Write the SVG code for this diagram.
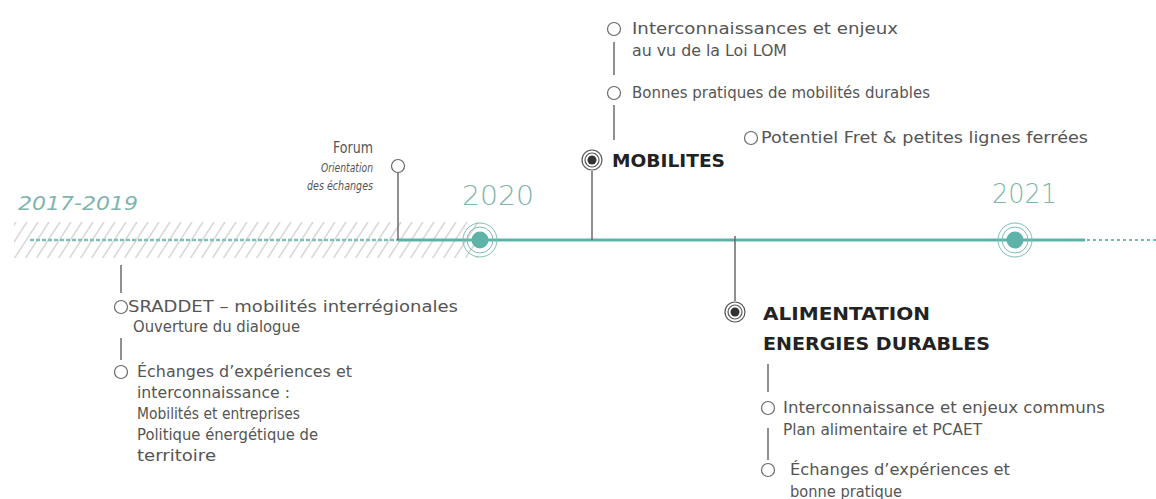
<svg xmlns="http://www.w3.org/2000/svg" width="1156" height="499" viewBox="0 0 1156 499">
<style>
.t{font-family:"DejaVu Sans","Liberation Sans",sans-serif;font-size:15.5px;fill:#555}
.it{font-family:"DejaVu Sans","Liberation Sans",sans-serif;font-size:12px;font-style:italic;fill:#555}
.b{font-family:"DejaVu Sans","Liberation Sans",sans-serif;font-size:18.5px;font-weight:bold;fill:#222}
.yr{font-family:"DejaVu Sans","Liberation Sans",sans-serif;font-weight:200;fill:#7fb5ae}
.ln{stroke:#6a6a6a;stroke-width:1.5;fill:none}
.dot{stroke:#6a6a6a;stroke-width:1.2;fill:#fff}
.ring{stroke:#555;stroke-width:1.2;fill:none}
.yring{stroke:#7cbdb5;stroke-width:1;fill:none}
</style>
<defs>
<pattern id="hatch" patternUnits="userSpaceOnUse" width="11" height="36" patternTransform="translate(0,222) skewX(-33)">
<line x1="5" y1="0" x2="5" y2="36" stroke="#bdb3b3" stroke-width="1"/>
</pattern>
</defs>
<rect width="1156" height="499" fill="#fff"/>
<g id="timeline">
<rect x="14" y="222" width="464" height="36" fill="url(#hatch)"/>
<line x1="30" y1="240" x2="398" y2="240" stroke="#7cc2b8" stroke-width="2.5" stroke-dasharray="4 2"/>
<line x1="398" y1="240" x2="1085" y2="240" stroke="#5db3a8" stroke-width="3"/>
<line x1="1087" y1="240" x2="1156" y2="240" stroke="#6fbcb2" stroke-width="2" stroke-dasharray="3 3"/>
<text class="yr" x="18" y="210" font-size="20" font-style="italic" textLength="120" lengthAdjust="spacingAndGlyphs">2017-2019</text>
</g>
<g id="y2020">
<circle cx="480" cy="240" r="17" class="yring"/>
<circle cx="480" cy="240" r="13" class="yring"/>
<circle cx="480" cy="240" r="8.5" fill="#5db3a8"/>
<text class="yr" x="462" y="205" font-size="27" textLength="72" lengthAdjust="spacingAndGlyphs">2020</text>
</g>
<g id="y2021">
<circle cx="1015" cy="240" r="17" class="yring"/>
<circle cx="1015" cy="240" r="13" class="yring"/>
<circle cx="1015" cy="240" r="8.5" fill="#5db3a8"/>
<text class="yr" x="992" y="203" font-size="27" textLength="65" lengthAdjust="spacingAndGlyphs">2021</text>
</g>
<g id="connectors">
<line class="ln" x1="398" y1="173" x2="398" y2="240"/>
<line class="ln" x1="592" y1="171" x2="592" y2="240"/>
<line class="ln" x1="614" y1="42" x2="614" y2="75"/>
<line class="ln" x1="614" y1="105" x2="614" y2="140"/>
<line class="ln" x1="735" y1="236" x2="735" y2="301"/>
<line class="ln" x1="768" y1="364" x2="768" y2="392"/>
<line class="ln" x1="768" y1="428" x2="768" y2="460"/>
<line class="ln" x1="121" y1="265" x2="121" y2="293"/>
<line class="ln" x1="121" y1="338" x2="121" y2="360"/>
</g>
<g id="forum">
<circle class="dot" cx="398" cy="166" r="6.5"/>
<text class="t" x="373" y="153" text-anchor="end" font-size="14" textLength="40" lengthAdjust="spacingAndGlyphs">Forum</text>
<text class="it" x="373" y="172" text-anchor="end" textLength="52" lengthAdjust="spacingAndGlyphs">Orientation</text>
<text class="it" x="373" y="190" text-anchor="end" textLength="66" lengthAdjust="spacingAndGlyphs">des échanges</text>
</g>
<g id="mobilites">
<circle class="ring" cx="592" cy="160" r="10"/>
<circle class="ring" cx="592" cy="160" r="7"/>
<circle cx="592" cy="160" r="4.5" fill="#333"/>
<text class="b" x="612" y="167" textLength="113" lengthAdjust="spacingAndGlyphs">MOBILITES</text>
</g>
<g id="mob-interconnaissances">
<circle class="dot" cx="614" cy="29" r="6.5"/>
<text class="t" x="632" y="34" textLength="266" lengthAdjust="spacingAndGlyphs">Interconnaissances et enjeux</text>
<text class="t" x="632" y="56" textLength="155" lengthAdjust="spacingAndGlyphs">au vu de la Loi LOM</text>
</g>
<g id="mob-bonnes-pratiques">
<circle class="dot" cx="614" cy="93" r="6.5"/>
<text class="t" x="632" y="98" textLength="298" lengthAdjust="spacingAndGlyphs">Bonnes pratiques de mobilités durables</text>
</g>
<g id="mob-fret">
<circle class="dot" cx="751" cy="138" r="6.5"/>
<text class="t" x="761" y="143" textLength="327" lengthAdjust="spacingAndGlyphs">Potentiel Fret &amp; petites lignes ferrées</text>
</g>
<g id="alimentation">
<circle class="ring" cx="735" cy="312" r="10"/>
<circle class="ring" cx="735" cy="312" r="7"/>
<circle cx="735" cy="312" r="4.5" fill="#333"/>
<text class="b" x="763" y="320" textLength="167" lengthAdjust="spacingAndGlyphs">ALIMENTATION</text>
<text class="b" x="763" y="350" textLength="227" lengthAdjust="spacingAndGlyphs">ENERGIES DURABLES</text>
</g>
<g id="ali-interconnaissance">
<circle class="dot" cx="768" cy="408" r="6.5"/>
<text class="t" x="783" y="413" textLength="322" lengthAdjust="spacingAndGlyphs">Interconnaissance et enjeux communs</text>
<text class="t" x="783" y="435" textLength="199" lengthAdjust="spacingAndGlyphs">Plan alimentaire et PCAET</text>
</g>
<g id="ali-echanges">
<circle class="dot" cx="768" cy="470" r="6.5"/>
<text class="t" x="790" y="475" textLength="220" lengthAdjust="spacingAndGlyphs">Échanges d’expériences et</text>
<text class="t" x="790" y="497" textLength="112" lengthAdjust="spacingAndGlyphs">bonne pratique</text>
</g>
<g id="sraddet">
<circle class="dot" cx="121" cy="307" r="6.5"/>
<text class="t" x="128" y="312" textLength="330" lengthAdjust="spacingAndGlyphs">SRADDET – mobilités interrégionales</text>
<text class="t" x="133" y="332" textLength="167" lengthAdjust="spacingAndGlyphs">Ouverture du dialogue</text>
</g>
<g id="echanges-2019">
<circle class="dot" cx="121" cy="372" r="6.5"/>
<text class="t" x="137" y="377" textLength="215" lengthAdjust="spacingAndGlyphs">Échanges d’expériences et</text>
<text class="t" x="137" y="398" textLength="153" lengthAdjust="spacingAndGlyphs">interconnaissance :</text>
<text class="t" x="137" y="419" textLength="163" lengthAdjust="spacingAndGlyphs">Mobilités et entreprises</text>
<text class="t" x="137" y="440" textLength="181" lengthAdjust="spacingAndGlyphs">Politique énergétique de</text>
<text class="t" x="137" y="461" textLength="79" lengthAdjust="spacingAndGlyphs">territoire</text>
</g>
</svg>
